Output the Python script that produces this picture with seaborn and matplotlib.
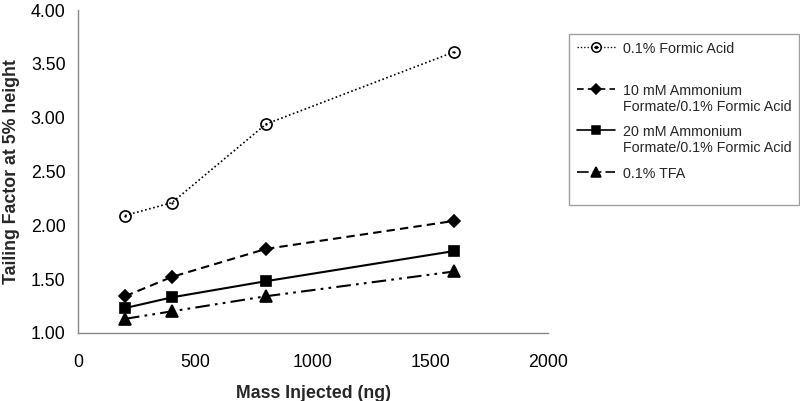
import matplotlib
matplotlib.use("Agg")
import matplotlib.pyplot as plt
import seaborn as sns
import pandas as pd
from matplotlib.lines import Line2D
from matplotlib.legend_handler import HandlerTuple

mass_ng = [200, 400, 800, 1600]
formic = [2.09, 2.21, 2.94, 3.61]
amm10 = [1.34, 1.52, 1.78, 2.04]
amm20 = [1.23, 1.33, 1.48, 1.76]
tfa = [1.13, 1.20, 1.34, 1.57]

labels = ["0.1% Formic Acid",
          "10 mM Ammonium\nFormate/0.1% Formic Acid",
          "20 mM Ammonium\nFormate/0.1% Formic Acid",
          "0.1% TFA"]

sns.set_style("white")
plt.rcParams["font.family"] = ["Liberation Sans", "DejaVu Sans"]

fig = plt.figure(figsize=(8, 4.01), dpi=100)
ax = fig.add_axes([0.0975, 0.17, 0.5875, 0.805])

styles = [
    dict(y=formic, linestyle=(0, (1, 1.5)), marker="o", markersize=8, markerfacecolor="none", lw=1.2),
    dict(y=amm10, linestyle=(0, (4, 2.5)), marker="D", markersize=6, markerfacecolor="black", lw=1.5),
    dict(y=amm20, linestyle="-", marker="s", markersize=7.5, markerfacecolor="black", lw=1.5),
    dict(y=tfa, linestyle=(0, (7, 2.5, 1.3, 2.5, 1.3, 2.5)), marker="^", markersize=8, markerfacecolor="black", lw=1.5),
]

handles = []
for st in styles:
    df = pd.DataFrame({"x": mass_ng, "y": st["y"]})
    sns.lineplot(data=df, x="x", y="y", ax=ax, color="black", linestyle=st["linestyle"],
                 marker=st["marker"], markersize=st["markersize"],
                 markerfacecolor=st["markerfacecolor"], markeredgecolor="black",
                 markeredgewidth=1.2, linewidth=st["lw"], legend=False, errorbar=None)
    handles.append(Line2D([], [], color="black", linestyle=st["linestyle"], marker=st["marker"],
                          markersize=st["markersize"] * 0.85, markerfacecolor=st["markerfacecolor"],
                          markeredgecolor="black", markeredgewidth=1.1, linewidth=st["lw"] * 0.8))

# center dot of the open circle markers
sns.scatterplot(x=mass_ng, y=formic, ax=ax, color="black", s=3, marker="o", linewidth=0, legend=False)
dot = Line2D([], [], linestyle="none", marker="o", markersize=1.5, color="black")
handles[0] = (handles[0], dot)

ax.set_xlim(0, 2000)
ax.set_ylim(1.0, 4.0)
ax.set_xticks([0, 500, 1000, 1500, 2000])
yt = [1.0, 1.5, 2.0, 2.5, 3.0, 3.5, 4.0]
ax.set_yticks(yt)
ax.set_yticklabels([f"{v:.2f}" for v in yt])
ax.tick_params(axis="both", labelsize=12.8, colors="#888888", labelcolor="black",
               direction="out", length=5, width=1, pad=4)
ax.tick_params(axis="x", pad=10)
for s in ["top", "right"]:
    ax.spines[s].set_visible(False)
for s in ["left", "bottom"]:
    ax.spines[s].set_color("#888888")
    ax.spines[s].set_linewidth(1)

ax.set_xlabel("Mass Injected (ng)", fontsize=12.8, fontweight="bold", labelpad=10)
ax.set_ylabel("Tailing Factor at 5% height", fontsize=12.8, fontweight="bold", labelpad=8)

leg_labels = [labels[0] + "\n ", labels[1], labels[2], labels[3] + "\n "]
leg = fig.legend(handles, leg_labels, loc="upper left", bbox_to_anchor=(569 / 800, 1 - 34 / 401),
                 fontsize=10.3, frameon=True, fancybox=False, edgecolor="#888888",
                 handlelength=2.7, handletextpad=0.5, labelspacing=0.8, borderpad=0.55,
                 borderaxespad=0, handler_map={tuple: HandlerTuple(ndivide=1)})
leg.get_frame().set_linewidth(1)
for col in leg._legend_handle_box.get_children():
    for hp in col.get_children():
        hp.align = "top"

fig.savefig("out.png", dpi=100)
